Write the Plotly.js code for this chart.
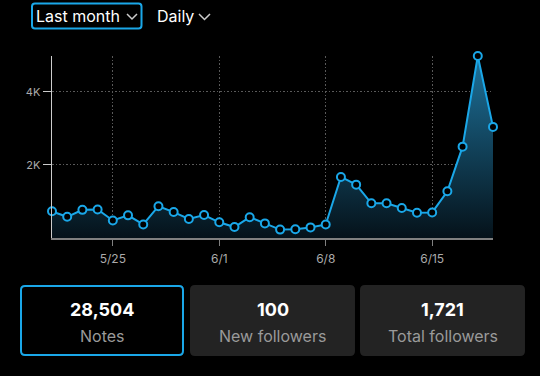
<!DOCTYPE html>
<html><head><meta charset="utf-8">
<script src="https://cdn.plot.ly/plotly-3.0.1.min.js"></script>
<style>html,body{margin:0;padding:0;background:#000;overflow:hidden}#chart{width:540px;height:376px}</style>
</head><body><div id="chart"></div>
<script>
const dates = ['2024-05-21','2024-05-22','2024-05-23','2024-05-24','2024-05-25','2024-05-26','2024-05-27','2024-05-28','2024-05-29','2024-05-30','2024-05-31','2024-06-01','2024-06-02','2024-06-03','2024-06-04','2024-06-05','2024-06-06','2024-06-07','2024-06-08','2024-06-09','2024-06-10','2024-06-11','2024-06-12','2024-06-13','2024-06-14','2024-06-15','2024-06-16','2024-06-17','2024-06-18','2024-06-19'];
const notes = [730,580,770,780,480,620,370,870,710,520,630,430,300,570,400,230,240,290,370,1670,1460,950,950,820,690,700,1280,2500,4980,3040];
const tickDates = ['2024-05-25','2024-06-01','2024-06-08','2024-06-15'];
const tickLabels = ['5/25','6/1','6/8','6/15'];
const yTickVals = [2000,4000];
const yTickLabels = ['2K','4K'];
const periodLabel = 'Last month';
const intervalLabel = 'Daily';
const cardValues = ['28,504','100','1,721'];
const cardLabels = ['Notes','New followers','Total followers'];

const W=540,H=376,M={l:52,r:47,t:56,b:138};
const pw=W-M.l-M.r, ph=H-M.t-M.b;
const px=x=>(x-M.l)/pw, py=y=>(H-M.b-y)/ph;
function P(x,y){return px(x).toFixed(5)+','+py(y).toFixed(5);}
function rr(x0,y0,x1,y1,r){
  return 'M'+P(x0+r,y0)+' L'+P(x1-r,y0)+' Q'+P(x1,y0)+' '+P(x1,y0+r)+
    ' L'+P(x1,y1-r)+' Q'+P(x1,y1)+' '+P(x1-r,y1)+' L'+P(x0+r,y1)+
    ' Q'+P(x0,y1)+' '+P(x0,y1-r)+' L'+P(x0,y0+r)+' Q'+P(x0,y0)+' '+P(x0+r,y0)+' Z';
}
const BLUE='#1aa7e8';
const FONT='Inter, "Noto Sans", sans-serif';

const shapes=[];
const annotations=[];
// top selector
shapes.push({type:'path',xref:'paper',yref:'paper',path:rr(32,3.5,141.5,28.5,3),line:{color:BLUE,width:2},fillcolor:'rgba(0,0,0,0)'});
shapes.push({type:'path',xref:'paper',yref:'paper',path:'M'+P(127,14)+' L'+P(132,19)+' L'+P(137,14),line:{color:'#cccccc',width:1.5}});
shapes.push({type:'path',xref:'paper',yref:'paper',path:'M'+P(199,14)+' L'+P(204.5,19.5)+' L'+P(210,14),line:{color:'#cccccc',width:1.5}});
annotations.push({xref:'paper',yref:'paper',x:px(34),y:py(16),xanchor:'left',yanchor:'middle',text:periodLabel,showarrow:false,font:{family:FONT,size:16,color:'#ffffff'}});
annotations.push({xref:'paper',yref:'paper',x:px(155),y:py(16),xanchor:'left',yanchor:'middle',text:intervalLabel,showarrow:false,font:{family:FONT,size:16,color:'#ffffff'}});
// cards
const cardX=[[20,184],[190,355],[360,525]];
cardX.forEach((c,i)=>{
  if(i===0){
    shapes.push({type:'path',xref:'paper',yref:'paper',path:rr(c[0]+1,286,c[1]-1,355,4),line:{color:BLUE,width:2},fillcolor:'#000000'});
  } else {
    shapes.push({type:'path',xref:'paper',yref:'paper',path:rr(c[0],285,c[1],356,5),line:{width:0},fillcolor:'#232323'});
  }
  const cx=(c[0]+c[1])/2;
  annotations.push({xref:'paper',yref:'paper',x:px(cx),y:py(309.5),xanchor:'center',yanchor:'middle',text:'<b>'+cardValues[i]+'</b>',showarrow:false,font:{family:FONT,size:18,color:'#ffffff'}});
  annotations.push({xref:'paper',yref:'paper',x:px(cx),y:py(335.5),xanchor:'center',yanchor:'middle',text:cardLabels[i],showarrow:false,font:{family:FONT,size:16,color:'#9a9a9a'}});
});

const trace={x:dates,y:notes,type:'scatter',mode:'lines+markers',fill:'tozeroy',
  fillgradient:{type:'vertical',start:0,stop:5000,colorscale:[[0,'#05121a'],[1,'#1e739c']]},
  line:{color:BLUE,width:2},
  marker:{symbol:'circle',size:8,color:'#000000',line:{color:BLUE,width:2}},
  cliponaxis:false,hoverinfo:'skip'};

const layout={width:W,height:H,margin:M,paper_bgcolor:'#000',plot_bgcolor:'#000',showlegend:false,
  font:{family:FONT,color:'#aaaaaa'},
  xaxis:{type:'date',range:[dates[0],dates[dates.length-1]],tickmode:'array',tickvals:tickDates,ticktext:tickLabels,
    showgrid:true,gridcolor:'#5a5a5a',griddash:'1.5px,2px',gridwidth:1,zeroline:false,
    showline:true,linecolor:'#808080',linewidth:1.5,ticks:'outside',ticklen:6,tickcolor:'#808080',tickwidth:1,
    ticklabelstandoff:3,
    tickfont:{family:FONT,size:12,color:'#aaaaaa'},fixedrange:true},
  yaxis:{range:[0,4980],tickmode:'array',tickvals:yTickVals,ticktext:yTickLabels,
    showgrid:true,gridcolor:'#5a5a5a',griddash:'1.5px,2px',gridwidth:1,zeroline:false,
    showline:true,linecolor:'#cccccc',linewidth:1.5,ticks:'outside',ticklen:8,tickcolor:'#cccccc',tickwidth:1,
    tickfont:{family:FONT,size:11,color:'#aaaaaa'},fixedrange:true},
  shapes:shapes,annotations:annotations};
Plotly.newPlot('chart',[trace],layout,{staticPlot:true,displayModeBar:false});
</script></body></html>
